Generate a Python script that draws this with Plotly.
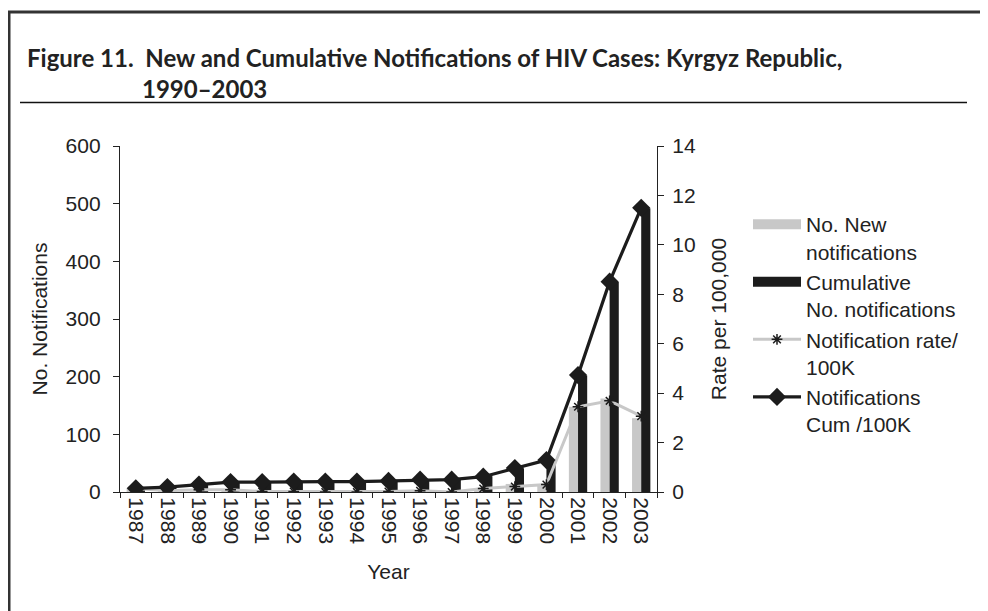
import plotly.graph_objects as go

years = [str(y) for y in range(1987, 2004)]
new_notifications = [6, 2, 4, 4, 1, 1, 0, 0, 1, 2, 0, 6, 14, 13, 148, 162, 128]
cum_notifications = [6, 8, 12, 16, 17, 18, 18, 18, 19, 21, 21, 27, 41, 54, 202, 364, 492]
rate_per_100k = [0.14, 0.05, 0.09, 0.09, 0.02, 0.02, 0.0, 0.0, 0.02, 0.05, 0.0, 0.14, 0.22, 0.30, 3.45, 3.69, 3.07]
cum_rate_per_100k = [0.15, 0.2, 0.3, 0.4, 0.4, 0.42, 0.42, 0.42, 0.45, 0.5, 0.5, 0.62, 0.97, 1.29, 4.73, 8.51, 11.5]

left_ticks = list(range(0, 601, 100))
right_ticks = list(range(0, 15, 2))

GRAY = "#c8c8c8"
BLACK = "#1c1c1c"
AX = "#222"
FONT = "Liberation Sans, Arial, sans-serif"
FS = 21

# the page body adds an 8px offset; figure coords = page coords - 8
OFF = 8
W, H = 988, 611
L, R, T, B = 120 - OFF, 657 - OFF, 146 - OFF, 492 - OFF
PW, PH = R - L, B - T


def px(x):
    return (x - L) / PW


def py(y):
    return (B - y) / PH


n = len(years)
xr = [-0.5, n - 0.5]
boundaries = [k - 0.5 for k in range(n + 1)]

fig = go.Figure()

fig.add_trace(go.Bar(x=years, y=new_notifications, marker=dict(color=GRAY, line=dict(width=0)),
                     showlegend=False, yaxis="y"))
fig.add_trace(go.Bar(x=years, y=cum_notifications, marker=dict(color=BLACK, line=dict(width=0)),
                     showlegend=False, yaxis="y"))

fig.add_trace(go.Scatter(x=years, y=rate_per_100k, mode="lines+markers", yaxis="y2",
                         name="Notification rate/<br>100K", legendrank=3,
                         line=dict(color=GRAY, width=3),
                         marker=dict(symbol="asterisk-open", size=9, color=BLACK,
                                     line=dict(color=BLACK, width=1.5))))
fig.add_trace(go.Scatter(x=years, y=cum_rate_per_100k, mode="lines+markers", yaxis="y2",
                         name="Notifications<br>Cum /100K", legendrank=4,
                         line=dict(color=BLACK, width=3.2),
                         marker=dict(symbol="diamond", size=14, color=BLACK)))

# legend entries for the bar series (wide swatches like the original)
fig.add_trace(go.Scatter(x=[None], y=[None], mode="lines", name="No. New<br>notifications",
                         legendrank=1, line=dict(color=GRAY, width=11), yaxis="y"))
fig.add_trace(go.Scatter(x=[None], y=[None], mode="lines", name="Cumulative<br>No. notifications",
                         legendrank=2, line=dict(color=BLACK, width=11), yaxis="y"))

tickfont = dict(family=FONT, size=FS, color=AX)
titlefont = dict(family=FONT, size=FS, color=AX)

shapes = [
    dict(type="line", xref="paper", yref="paper", x0=px(0), x1=px(W + 20), y0=py(12 - OFF), y1=py(12 - OFF),
         line=dict(color="#333", width=3)),
    dict(type="line", xref="paper", yref="paper", x0=px(1), x1=px(1), y0=py(12 - OFF), y1=py(H + 20),
         line=dict(color="#333", width=3)),
    dict(type="line", xref="paper", yref="paper", x0=px(20 - OFF), x1=px(967 - OFF),
         y0=py(102.5 - OFF), y1=py(102.5 - OFF), line=dict(color="#111", width=1.5)),
]

title_font = dict(family="Lato", size=24, color="#222", weight="bold")
annotations = [
    dict(text="Figure 11.  New and Cumulative Notifications of HIV Cases: Kyrgyz Republic,",
         xref="paper", yref="paper", x=px(25 - OFF), y=py(57 - OFF), xanchor="left", yanchor="middle",
         showarrow=False, font=title_font),
    dict(text="1990–2003",
         xref="paper", yref="paper", x=px(140 - OFF), y=py(88 - OFF), xanchor="left", yanchor="middle",
         showarrow=False, font=title_font),
]

common = dict(showgrid=False, zeroline=False, linecolor=AX, linewidth=1.3, tickcolor=AX, tickwidth=1.3)

fig.update_layout(
    width=W, height=H,
    margin=dict(l=L, r=W - R, t=T, b=H - B, pad=0),
    paper_bgcolor="white", plot_bgcolor="white",
    barmode="group", bargap=0.42, bargroupgap=0.0,
    font=dict(family=FONT, size=FS, color=AX),
    xaxis=dict(type="category", categoryorder="array", categoryarray=years, range=xr,
               tickangle=90, tickfont=tickfont, ticks="outside", tickson="boundaries",
               ticklen=5, showline=True, **common,
               title=dict(text="Year", font=titlefont, standoff=20)),
    xaxis2=dict(overlaying="x", anchor="y", side="bottom", range=xr, tickvals=boundaries,
                showticklabels=False, ticks="inside", ticklen=5, showline=False, **common),
    yaxis=dict(range=[0, 600], tickvals=left_ticks, tickfont=tickfont, ticks="outside",
               ticklen=6, showline=True, ticklabelstandoff=8, **common,
               title=dict(text="No. Notifications", font=titlefont, standoff=12)),
    yaxis2=dict(range=[0, 14], tickvals=right_ticks, overlaying="y", side="right",
                tickfont=tickfont, ticks="outside", ticklen=6, showline=True, ticklabelstandoff=4,
                **common,
                title=dict(text="Rate per 100,000", font=titlefont, standoff=16)),
    yaxis3=dict(range=[0, 600], tickvals=left_ticks, overlaying="y", side="left", anchor="x",
                showticklabels=False, ticks="inside", ticklen=6, showline=False, **common),
    yaxis4=dict(range=[0, 14], tickvals=right_ticks, overlaying="y", side="right", anchor="x",
                showticklabels=False, ticks="inside", ticklen=5, showline=False, **common),
    legend=dict(x=px(740), y=py(196), xanchor="left", yanchor="top",
                font=dict(family=FONT, size=FS, color=AX),
                itemwidth=48, valign="top", traceorder="normal",
                bgcolor="rgba(0,0,0,0)", borderwidth=0),
    shapes=shapes,
    annotations=annotations,
)

fig.write_html("out.html")
